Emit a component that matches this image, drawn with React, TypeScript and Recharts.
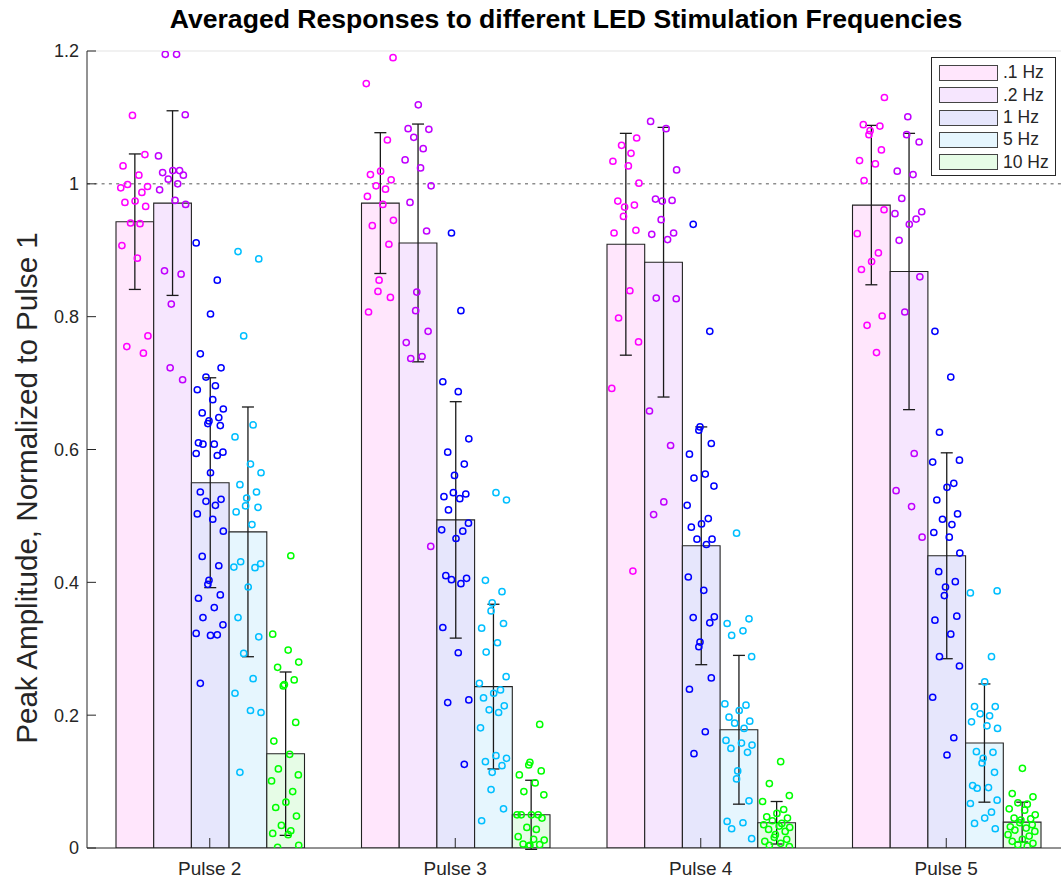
import { ComposedChart, Bar, Scatter, XAxis, YAxis, ErrorBar, ReferenceLine, Legend } from 'recharts';

const FONT = '"Liberation Sans", Arial, Helvetica, sans-serif';
const INK = '#262626';

const pulses = ['Pulse 2', 'Pulse 3', 'Pulse 4', 'Pulse 5'];
const freqLabels = ['.1 Hz', '.2 Hz', '1 Hz', '5 Hz', '10 Hz'];
const yTicks = [0, 0.2, 0.4, 0.6, 0.8, 1, 1.2];

// group means, one array per stimulation frequency (Pulse 2..5)
const mean01 = [0.943, 0.971, 0.909, 0.968];
const mean02 = [0.971, 0.911, 0.882, 0.868];
const mean1 = [0.550, 0.494, 0.455, 0.440];
const mean5 = [0.476, 0.243, 0.178, 0.158];
const mean10 = [0.142, 0.050, 0.038, 0.039];

// error bar half-widths
const err01 = [0.102, 0.106, 0.167, 0.120];
const err02 = [0.139, 0.179, 0.203, 0.208];
const err1 = [0.158, 0.178, 0.179, 0.155];
const err5 = [0.188, 0.124, 0.112, 0.089];
const err10 = [0.123, 0.052, 0.032, 0.030];

// individual responses, per pulse
const cells01 = [
  [1.103, 1.044, 1.027, 1.013, 0.999, 0.996, 0.994, 0.987, 0.974, 0.972, 0.966, 0.941, 0.940, 0.907, 0.888, 0.771, 0.755, 0.745],
  [1.190, 1.151, 1.066, 1.019, 1.014, 1.006, 0.997, 0.992, 0.981, 0.969, 0.945, 0.937, 0.909, 0.855, 0.838, 0.829, 0.807],
  [1.069, 1.058, 1.046, 1.034, 1.027, 1.001, 0.974, 0.968, 0.965, 0.951, 0.930, 0.926, 0.839, 0.798, 0.762, 0.692, 0.417],
  [1.130, 1.089, 1.087, 1.080, 1.074, 1.051, 1.035, 1.030, 1.005, 0.961, 0.925, 0.896, 0.883, 0.871, 0.801, 0.787, 0.746],
];
const cells02 = [
  [1.195, 1.195, 1.104, 1.042, 1.020, 1.020, 1.017, 1.013, 1.007, 1.000, 0.991, 0.975, 0.969, 0.869, 0.864, 0.819, 0.723, 0.705],
  [1.119, 1.083, 1.082, 1.070, 1.053, 1.036, 1.024, 0.997, 0.972, 0.929, 0.837, 0.809, 0.778, 0.761, 0.740, 0.737, 0.454],
  [1.094, 1.083, 1.021, 0.977, 0.975, 0.974, 0.946, 0.926, 0.924, 0.916, 0.828, 0.827, 0.658, 0.606, 0.521, 0.502],
  [1.101, 1.074, 1.063, 1.019, 1.014, 0.978, 0.958, 0.955, 0.947, 0.939, 0.915, 0.860, 0.807, 0.594, 0.538, 0.514, 0.468],
];
const cells1 = [
  [0.911, 0.855, 0.804, 0.744, 0.723, 0.709, 0.696, 0.690, 0.675, 0.661, 0.655, 0.648, 0.643, 0.639, 0.636, 0.610, 0.608, 0.608, 0.596, 0.594, 0.591,
    0.565, 0.536, 0.525, 0.522, 0.516, 0.503, 0.495, 0.477, 0.439, 0.425, 0.403, 0.397, 0.381, 0.376, 0.362, 0.347, 0.336, 0.323, 0.321, 0.320, 0.248],
  [0.926, 0.809, 0.702, 0.687, 0.616, 0.596, 0.578, 0.561, 0.535, 0.533, 0.529, 0.526, 0.509, 0.489, 0.479, 0.477, 0.466, 0.410, 0.406, 0.404, 0.398,
    0.332, 0.294, 0.223, 0.219, 0.126],
  [0.939, 0.778, 0.634, 0.629, 0.609, 0.593, 0.563, 0.557, 0.545, 0.516, 0.496, 0.488, 0.483, 0.465, 0.465, 0.457, 0.408, 0.388, 0.348, 0.347, 0.339,
    0.310, 0.303, 0.256, 0.239, 0.175, 0.142],
  [0.778, 0.709, 0.626, 0.584, 0.581, 0.549, 0.543, 0.524, 0.503, 0.495, 0.487, 0.475, 0.468, 0.444, 0.416, 0.401, 0.393, 0.380, 0.349, 0.343, 0.322,
    0.288, 0.274, 0.227, 0.166, 0.140],
];
const cells5 = [
  [0.898, 0.887, 0.771, 0.637, 0.619, 0.578, 0.565, 0.547, 0.536, 0.527, 0.515, 0.513, 0.506, 0.487, 0.431, 0.428, 0.423, 0.422, 0.393, 0.347, 0.318,
    0.293, 0.255, 0.233, 0.207, 0.204, 0.114],
  [0.535, 0.524, 0.403, 0.386, 0.369, 0.357, 0.338, 0.331, 0.309, 0.295, 0.258, 0.248, 0.238, 0.233, 0.226, 0.214, 0.208, 0.204, 0.181, 0.139, 0.135,
    0.130, 0.124, 0.114, 0.088, 0.059, 0.041],
  [0.474, 0.345, 0.338, 0.327, 0.320, 0.288, 0.217, 0.215, 0.207, 0.197, 0.191, 0.188, 0.180, 0.162, 0.158, 0.155, 0.150, 0.144, 0.116, 0.104, 0.071,
    0.040, 0.038, 0.029, 0.014],
  [0.387, 0.384, 0.288, 0.250, 0.213, 0.213, 0.202, 0.199, 0.190, 0.184, 0.180, 0.145, 0.144, 0.135, 0.128, 0.114, 0.094, 0.091, 0.090, 0.072, 0.067,
    0.054, 0.045, 0.037, 0.029],
];
const cells10 = [
  [0.440, 0.322, 0.298, 0.280, 0.272, 0.253, 0.246, 0.244, 0.189, 0.161, 0.141, 0.119, 0.110, 0.101, 0.085, 0.069, 0.061, 0.048, 0.034, 0.026, 0.022,
    0.020, 0.004, 0.001],
  [0.186, 0.129, 0.125, 0.116, 0.110, 0.098, 0.085, 0.080, 0.050, 0.050, 0.050, 0.050, 0.045, 0.031, 0.028, 0.017, 0.013, 0.012, 0.006, 0.005, 0.004, 0.003],
  [0.130, 0.097, 0.079, 0.070, 0.058, 0.052, 0.047, 0.045, 0.041, 0.037, 0.035, 0.033, 0.031, 0.028, 0.025, 0.020, 0.016, 0.013, 0.010, 0.007, 0.004, 0.002],
  [0.120, 0.082, 0.077, 0.068, 0.066, 0.059, 0.057, 0.050, 0.045, 0.044, 0.042, 0.038, 0.035, 0.032, 0.030, 0.027, 0.025, 0.020, 0.018, 0.013, 0.010,
    0.007, 0.005, 0.003],
];

const means = [mean01, mean02, mean1, mean5, mean10];
const errs = [err01, err02, err1, err5, err10];
const cells = [cells01, cells02, cells1, cells5, cells10];

const barFills = ['#ffe6fc', '#f6e6fe', '#e6e6fc', '#e6f6fe', '#e6fce6'];
const dotColors = ['#ff00ff', '#c000ff', '#0000ff', '#00bfff', '#00ff00'];

// bar geometry in x-axis units (one pulse = 1 unit wide)
const BAR_PX = 37.7;
const BAND_PX = 245.5;
const BAR_UNIT = BAR_PX / BAND_PX;
// fixed horizontal spread for the dots, in bar widths
const SPREAD = [-0.05, 0.28, -0.3, 0.12, -0.18, 0.35, -0.36, 0.2, 0.02, -0.25, 0.3, -0.1, 0.15, -0.33, 0.08, 0.36, -0.2, 0.24, -0.02];

const rows = pulses.map((pulse, i) => {
  const row: Record<string, string | number> = { pulse };
  means.forEach((m, k) => {
    row[`m${k}`] = m[i];
    row[`e${k}`] = errs[k][i];
  });
  return row;
});

const dots = cells.map((perPulse, k) =>
  perPulse.flatMap((vals, g) =>
    vals.map((y, i) => ({
      x: g + 1 + (k - 2) * BAR_UNIT + SPREAD[(i + g * 5 + k * 3) % SPREAD.length] * BAR_UNIT,
      y,
    })),
  ),
);

const ring = (color: string) => (props: any) => (
  <circle cx={props.cx} cy={props.cy} r={3.1} fill="none" stroke={color} strokeWidth={1.5} />
);

function LegendBox() {
  return (
    <div style={{
      width: 125,
      height: 119,
      boxSizing: 'border-box',
      border: `1px solid ${INK}`,
      background: '#fff',
      paddingTop: 4,
      fontFamily: FONT,
    }}>
      {freqLabels.map((label, k) => (
        <div key={label} style={{ height: 22.3, display: 'flex', alignItems: 'center' }}>
          <div style={{
            width: 59,
            height: 16,
            marginLeft: 7,
            boxSizing: 'border-box',
            border: '1px solid #444',
            background: barFills[k],
          }} />
          <span style={{ marginLeft: 5, fontSize: 17.5, lineHeight: 1, color: INK }}>{label}</span>
        </div>
      ))}
    </div>
  );
}

export default function App() {
  return (
    <div style={{
      position: 'absolute',
      left: 0,
      top: 0,
      width: 1061,
      height: 882,
      overflow: 'hidden',
      background: '#fff',
      fontFamily: FONT,
    }}>
      <div style={{
        position: 'absolute',
        left: 566,
        top: 6,
        transform: 'translateX(-50%)',
        whiteSpace: 'nowrap',
        fontSize: 26.6,
        fontWeight: 700,
        lineHeight: 1,
        color: '#000',
      }}>
        Averaged Responses to different LED Stimulation Frequencies
      </div>
      <div style={{
        position: 'absolute',
        left: 27,
        top: 488,
        transform: 'translate(-50%, -50%) rotate(-90deg)',
        whiteSpace: 'nowrap',
        fontSize: 29.6,
        lineHeight: 1,
        color: INK,
      }}>
        Peak Amplitude, Normalized to Pulse 1
      </div>

      <ComposedChart
        width={1080}
        height={882}
        data={rows}
        margin={{ top: 51, right: 11, bottom: 0, left: 0 }}
        barGap={0}
        barSize={BAR_PX}
      >
        <XAxis
          xAxisId="cat"
          dataKey="pulse"
          height={34}
          stroke={INK}
          tickSize={-10}
          tickMargin={24}
          tick={{ fill: INK, fontSize: 19, fontFamily: FONT }}
        />
        <XAxis xAxisId="num" type="number" dataKey="x" domain={[0.5, 4.5]} hide allowDataOverflow />
        <YAxis
          width={87}
          domain={[0, 1.2]}
          ticks={yTicks}
          allowDataOverflow
          stroke={INK}
          tickSize={-9}
          tickMargin={17}
          tick={{ fill: INK, fontSize: 18, fontFamily: FONT }}
        />
        <ReferenceLine xAxisId="cat" y={1.2} stroke="#e3e3e3" strokeWidth={1} />
        <ReferenceLine xAxisId="cat" y={1} stroke="#555" strokeDasharray="3 4.3" strokeWidth={1} />

        {means.map((_, k) => (
          <Bar
            key={`bar${k}`}
            xAxisId="cat"
            dataKey={`m${k}`}
            name={freqLabels[k]}
            fill={barFills[k]}
            stroke="#222"
            strokeWidth={1.1}
            isAnimationActive={false}
          >
            <ErrorBar dataKey={`e${k}`} width={6} stroke="#1a1a1a" strokeWidth={1.3} direction="y" />
          </Bar>
        ))}

        {dots.map((pts, k) => (
          <Scatter
            key={`dots${k}`}
            xAxisId="num"
            data={pts}
            dataKey="y"
            shape={ring(dotColors[k])}
            isAnimationActive={false}
          />
        ))}

        <Legend
          layout="horizontal"
          verticalAlign="middle"
          align="center"
          content={() => <LegendBox />}
          wrapperStyle={{ left: 931, top: 57, width: 125, height: 119 }}
        />
      </ComposedChart>
    </div>
  );
}
